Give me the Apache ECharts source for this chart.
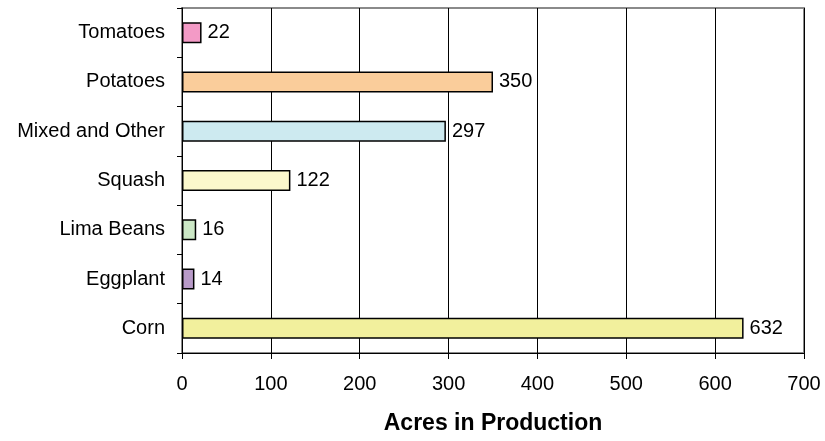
<!DOCTYPE html>
<html lang="en">
<head>
    <meta charset="UTF-8">
    <title>Acres in Production</title>
    <script src="https://cdn.jsdelivr.net/npm/echarts@6/dist/echarts.min.js"></script>
    <style>
        body { margin: 0; background: #fff; }
        #chart { width: 825px; height: 441px; }
    </style>
</head>
<body>
    <div id="chart"></div>
    <script>
        // bottom to top, as the category axis draws them
        const crops = ['Corn', 'Eggplant', 'Lima Beans', 'Squash', 'Mixed and Other', 'Potatoes', 'Tomatoes'];
        const acres = [632, 14, 16, 122, 297, 350, 22];
        const barColors = ['#f2f09d', '#b89ac8', '#cce8c6', '#fbf8cc', '#cdeaf0', '#facd9b', '#f39ac6'];
        const xTicks = { min: 0, max: 700, interval: 100 };

        const font = "'Liberation Sans', Arial, sans-serif";
        const chart = echarts.init(document.getElementById('chart'));

        const option = {
            animation: false,
            grid: {
                left: 182, right: 21, top: 8, bottom: 88,
                show: true,
                borderColor: '#8a8a8a',
                borderWidth: 2
            },
            xAxis: {
                type: 'value',
                min: xTicks.min,
                max: xTicks.max,
                interval: xTicks.interval,
                name: 'Acres in Production',
                nameLocation: 'middle',
                nameGap: 59,
                nameTextStyle: { fontFamily: font, fontSize: 23, fontWeight: 'bold', color: '#000' },
                axisLine: { show: true, lineStyle: { color: '#000', width: 1 } },
                axisTick: { show: true, length: 6, lineStyle: { color: '#000' } },
                axisLabel: { margin: 21, fontFamily: font, fontSize: 20, color: '#000' },
                splitLine: { show: true, lineStyle: { color: '#000', width: 1 } }
            },
            yAxis: {
                type: 'category',
                data: crops,
                axisLine: { show: true, lineStyle: { color: '#000', width: 1 } },
                axisTick: { show: true, length: 5, lineStyle: { color: '#000' } },
                axisLabel: { margin: 17, fontFamily: font, fontSize: 20, color: '#000' },
                splitLine: { show: false }
            },
            series: [{
                type: 'bar',
                barWidth: 21,
                data: acres.map((v, i) => ({
                    value: v,
                    itemStyle: { color: barColors[i], borderColor: '#000', borderWidth: 1.5 }
                })),
                label: {
                    show: true,
                    position: 'right',
                    distance: 6,
                    fontFamily: font,
                    fontSize: 20,
                    color: '#000'
                }
            }]
        };

        chart.setOption(option);
    </script>
</body>
</html>
